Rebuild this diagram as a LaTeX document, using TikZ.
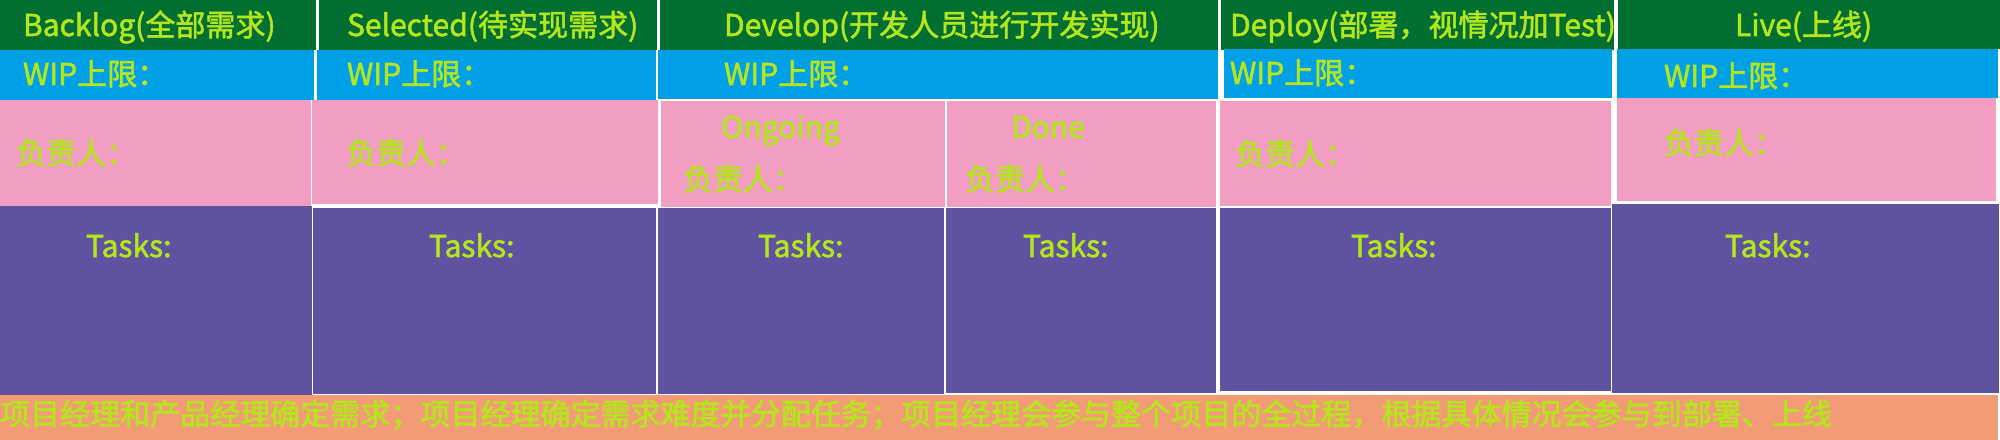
\documentclass[tikz,border=0pt]{standalone}
\usepackage{fontspec}
\setmainfont{Noto Sans CJK SC}
\newfontfamily\lblfont{Noto Sans CJK SC}[FakeBold=1.8]
\definecolor{hgreen}{HTML}{006F31}
\definecolor{wblue}{HTML}{00A0E6}
\definecolor{ppink}{HTML}{F19EC2}
\definecolor{tpurple}{HTML}{5F52A0}
\definecolor{borange}{HTML}{F29B76}
\definecolor{lime}{HTML}{B5E61D}
\begin{document}
\begin{tikzpicture}[x=0.01cm,y=-0.01cm,
  lbl/.style={anchor=base west,inner sep=0pt,outer sep=0pt,text=lime,font=\lblfont\fontsize{8.54pt}{10pt}\selectfont}]
\useasboundingbox (0,0) rectangle (2000,440);
\fill[white] (0,0) rectangle (2000,440);
% header row
\fill[hgreen] (0,0) rectangle (316,50);
\fill[hgreen] (319,0) rectangle (657,50);
\fill[hgreen] (660,0) rectangle (1218,50);
\fill[hgreen] (1221,0) rectangle (1614,50);
\fill[hgreen] (1618,0) rectangle (2000,49);
% WIP row
\fill[wblue] (0,50) rectangle (314,100);
\fill[wblue] (317,50) rectangle (656,100);
\fill[wblue] (658,50) rectangle (1218,99);
\fill[wblue] (1224,49) rectangle (1612,98);
\fill[wblue] (1617,49) rectangle (1998,98);
% owner row
\fill[ppink] (0,100) rectangle (311,206);
\fill[ppink] (312,100) rectangle (658,204);
\fill[ppink] (661,101) rectangle (945,207);
\fill[ppink] (947,101) rectangle (1216,207);
\fill[ppink] (1220,101) rectangle (1611,206);
\fill[ppink] (1617,98) rectangle (1996,201);
% tasks row
\fill[tpurple] (0,206) rectangle (312,395);
\fill[tpurple] (313,208) rectangle (656,394);
\fill[tpurple] (658,208) rectangle (944,394);
\fill[tpurple] (946,208) rectangle (1216,393);
\fill[tpurple] (1220,208) rectangle (1611,391);
\fill[tpurple] (1612,204) rectangle (1999,393);
% bottom band
\fill[borange] (0,395) rectangle (1998,440);
% headers
\node[lbl] (h1) at (23,36) {Backlog(全部需求)};
\node[lbl] (h2) at (347,36) {Selected(待实现需求)};
\node[lbl] (h3) at (724,36) {Develop(开发人员进行开发实现)};
\node[lbl] (h4) at (1230,36) {Deploy(部署，视情况加Test)};
\node[lbl] (h5) at (1735,36) {Live(上线)};
% WIP
\node[lbl] (w1) at (23,85) {WIP上限：};
\node[lbl] (w2) at (347,85) {WIP上限：};
\node[lbl] (w3) at (724,85) {WIP上限：};
\node[lbl] (w4) at (1230,84) {WIP上限：};
\node[lbl] (w5) at (1664,87) {WIP上限：};
% sub columns
\node[lbl] (on) at (721,138) {Ongoing};
\node[lbl] (dn) at (1011,138) {Done};
% owners
\node[lbl] (o1) at (16,164) {负责人：};
\node[lbl] (o2) at (346,164) {负责人：};
\node[lbl] (o3) at (683,190) {负责人：};
\node[lbl] (o4) at (965,190) {负责人：};
\node[lbl] (o5) at (1235,165) {负责人：};
\node[lbl] (o6) at (1664,154) {负责人：};
% tasks
\node[lbl] (t1) at (86,257) {Tasks:};
\node[lbl] (t2) at (429,257) {Tasks:};
\node[lbl] (t3) at (758,257) {Tasks:};
\node[lbl] (t4) at (1023,257) {Tasks:};
\node[lbl] (t5) at (1351,257) {Tasks:};
\node[lbl] (t6) at (1725,257) {Tasks:};
% bottom note
\node[lbl] (note) at (0,425) {项目经理和产品经理确定需求；项目经理确定需求难度并分配任务；项目经理会参与整个项目的全过程，根据具体情况会参与到部署、上线};
\end{tikzpicture}
\end{document}
